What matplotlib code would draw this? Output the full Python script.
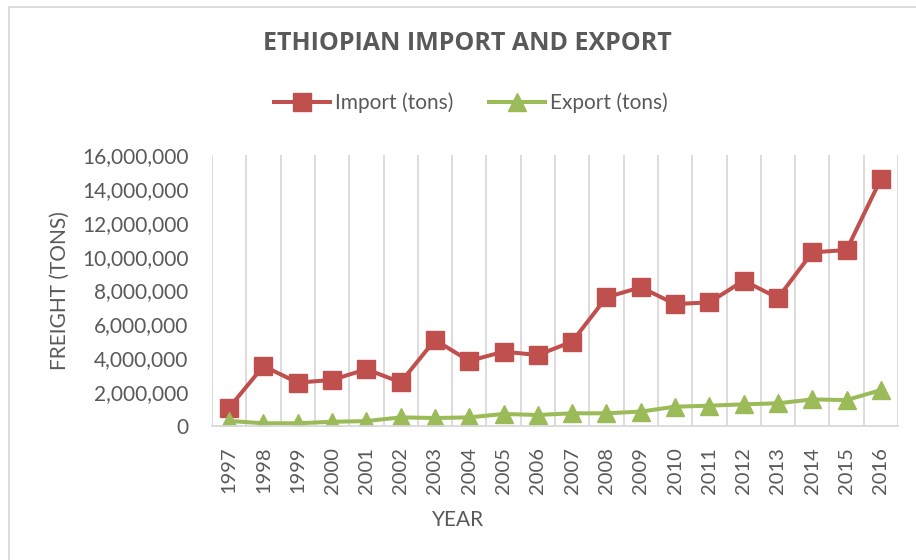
import matplotlib
matplotlib.use("Agg")
import matplotlib.pyplot as plt
from matplotlib.patches import Rectangle
from matplotlib.ticker import FuncFormatter, MultipleLocator
import numpy as np

years = ["1997", "1998", "1999", "2000", "2001", "2002", "2003", "2004", "2005", "2006",
         "2007", "2008", "2009", "2010", "2011", "2012", "2013", "2014", "2015", "2016"]
import_tons = [1080000, 3540000, 2560000, 2720000, 3350000, 2580000, 5080000, 3840000, 4390000, 4190000,
               4980000, 7600000, 8190000, 7200000, 7300000, 8580000, 7560000, 10250000, 10390000, 14580000]
export_tons = [300000, 160000, 160000, 250000, 290000, 510000, 470000, 510000, 710000, 650000,
               750000, 750000, 850000, 1140000, 1200000, 1280000, 1340000, 1570000, 1530000, 2120000]

TEXT = "#595959"
GRID = "#D9D9D9"
plt.rcParams['font.family'] = ['Lato', 'DejaVu Sans']

fig = plt.figure(figsize=(9.16, 5.6), dpi=100)
ax = fig.add_axes([212/916, 1-426/560, (898-212)/916, (426-155)/560])

x = np.arange(len(years))
ax.plot(x, import_tons, color="#C0504D", lw=2.9, marker="s", markersize=12.5, label="Import (tons)")
ax.plot(x, export_tons, color="#9BBB59", lw=2.9, marker="^", markersize=13.5, label="Export (tons)")

ax.set_xlim(-0.5, len(years)-0.5)
ax.set_ylim(0, 16000000)
ax.yaxis.set_major_locator(MultipleLocator(2000000))
ax.yaxis.set_major_formatter(FuncFormatter(lambda v, p: f"{int(v):,}"))
ax.set_xticks(x)
ax.set_xticklabels(years, rotation=90)
ax.set_xticks(np.arange(-0.5, len(years), 1), minor=True)
ax.grid(True, which="minor", axis="x", color=GRID, lw=1.3)
ax.grid(False, which="major")
ax.tick_params(axis="x", which="both", length=0, pad=15, labelsize=14.5, colors=TEXT)
ax.tick_params(axis="y", length=0, pad=17, labelsize=15, colors=TEXT)
for s in ["top", "right", "left"]:
    ax.spines[s].set_visible(False)
ax.spines["bottom"].set_color(GRID)
ax.spines["bottom"].set_linewidth(1.3)
ax.set_axisbelow(True)

fig.text(60/916, 1-291/560, "FREIGHT (TONS)", fontsize=15, color=TEXT, rotation=90, ha="center", va="center")
fig.text(458/916, 1-520/560, "YEAR", fontsize=15, color=TEXT, ha="center", va="center")

fig.text(467/916, 1-44/560, "ETHIOPIAN IMPORT AND EXPORT", fontsize=18, fontweight="bold",
         color=TEXT, ha="center", va="center", family=["Open Sans", "DejaVu Sans"])

leg = fig.legend(loc="center", bbox_to_anchor=(471/916, 1-103/560), ncol=2, frameon=False,
                 fontsize=15, handlelength=2.7, handletextpad=0.25, columnspacing=1.7)
for t in leg.get_texts():
    t.set_color(TEXT)

fig.add_artist(Rectangle((9/916, -0.1), 1.2, 1.1 - 7/560, transform=fig.transFigure,
                         fill=False, edgecolor=GRID, lw=1.3))

fig.savefig("out.png", dpi=100, facecolor="white")
